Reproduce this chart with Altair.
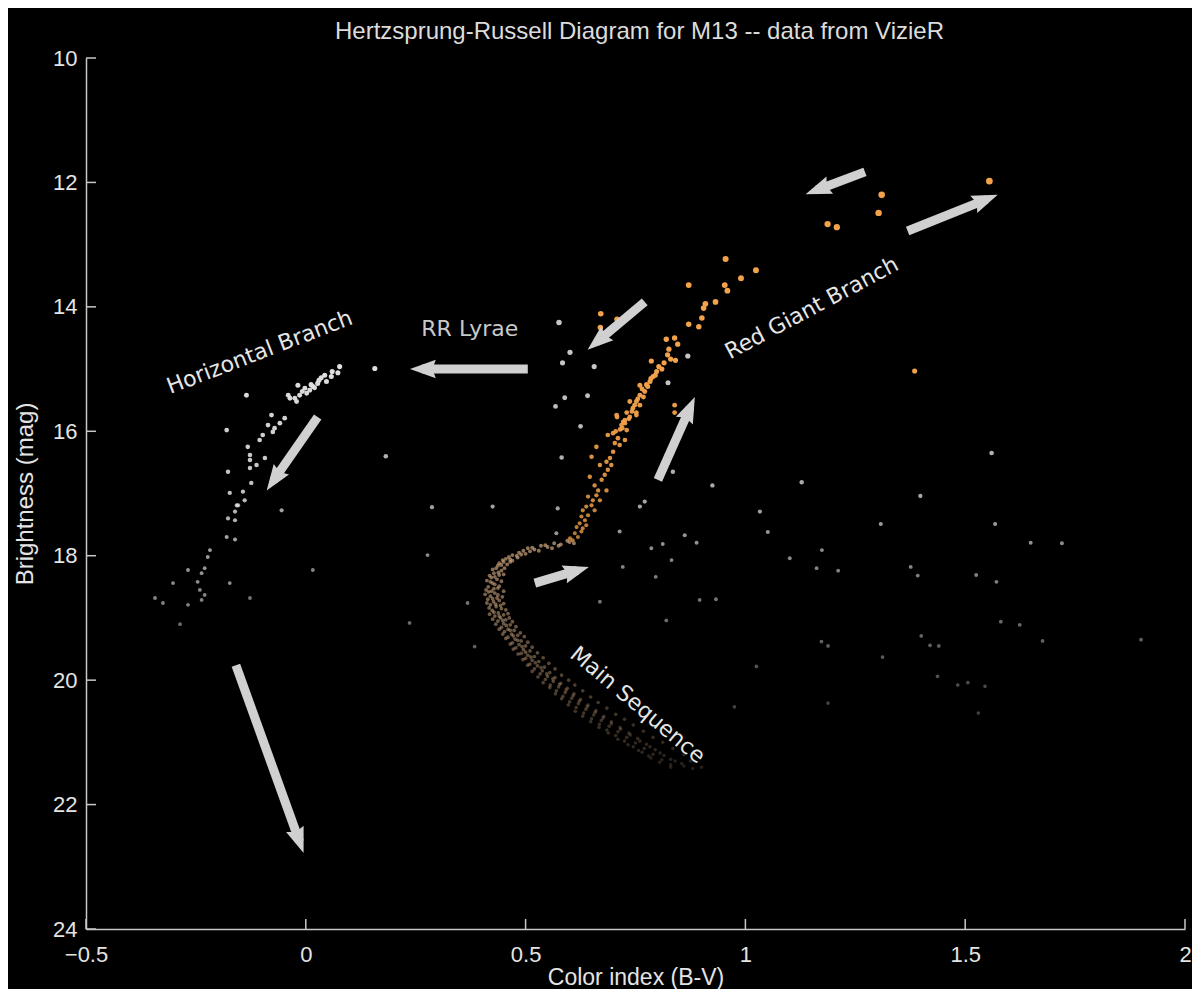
import math
import altair as alt
import pandas as pd

# ---------------- data ----------------
# Red giant branch (orange)
rgb_bv = [1.555, 1.31, 1.303, 1.187, 1.208, 1.385,
          0.955, 1.024, 0.990, 0.871, 0.953, 0.959, 0.932, 0.909, 0.905, 0.901, 0.871, 0.894,
          0.671, 0.708, 0.670, 0.839, 0.846, 0.826, 0.823, 0.830, 0.841, 0.786, 0.803, 0.798,
          0.790, 0.783, 0.778, 0.760, 0.771, 0.760, 0.752, 0.737, 0.744, 0.752, 0.730, 0.726,
          0.718, 0.839, 0.839, 0.708, 0.699, 0.815, 0.810, 0.795, 0.785, 0.775, 0.765, 0.768,
          0.755, 0.748, 0.742, 0.735, 0.722, 0.715, 0.705, 0.820,
          0.760, 0.752, 0.737, 0.726, 0.720, 0.730, 0.707, 0.687, 0.710, 0.726, 0.703, 0.714,
          0.661, 0.699, 0.692, 0.684, 0.695, 0.669, 0.650, 0.687, 0.680, 0.673, 0.684, 0.657,
          0.646, 0.665, 0.661, 0.669, 0.653, 0.642, 0.650, 0.638, 0.657, 0.630, 0.642, 0.627,
          0.635, 0.623, 0.638, 0.616, 0.630, 0.627, 0.612, 0.619, 0.601, 0.607]
rgb_mag = [11.98, 12.20, 12.49, 12.67, 12.72, 15.03,
           13.23, 13.41, 13.54, 13.65, 13.65, 13.74, 13.92, 13.95, 14.02, 14.18, 14.28, 14.32,
           14.11, 14.20, 14.33, 14.50, 14.60, 14.68, 14.77, 14.84, 14.86, 14.87, 14.96, 15.04,
           15.12, 15.20, 15.28, 15.26, 15.36, 15.42, 15.52, 15.52, 15.63, 15.70, 15.70, 15.82,
           15.90, 15.58, 15.70, 15.77, 16.03, 14.90, 15.00, 15.10, 15.15, 15.25, 15.32, 15.45,
           15.48, 15.58, 15.68, 15.80, 15.85, 15.97, 16.00, 14.52,
           15.58, 15.74, 15.77, 15.87, 15.95, 15.98, 15.74, 16.06, 16.11, 16.14, 16.19, 16.22,
           16.25, 16.33, 16.43, 16.49, 16.54, 16.54, 16.41, 16.62, 16.70, 16.78, 16.95, 16.87,
           16.73, 16.95, 17.03, 17.11, 17.11, 17.05, 17.19, 17.21, 17.27, 17.27, 17.35, 17.37,
           17.43, 17.48, 17.51, 17.54, 17.56, 17.61, 17.64, 17.70, 17.72, 17.75]

# Horizontal branch (white)
hb_bv = [0.157, 0.077, 0.073, 0.058, 0.043, 0.047, 0.027, 0.016, 0.009, -0.002, 0.002, -0.018,
         -0.014, -0.025, -0.036, -0.021, -0.040, -0.135, -0.048, -0.059, -0.078, -0.086, -0.071,
         -0.075, -0.098, -0.105, -0.132, -0.127, -0.093, -0.127, -0.112, -0.127, -0.180, -0.177,
         -0.124, -0.173, -0.143, -0.139, -0.154, -0.161, -0.177, -0.161, -0.180, -0.161, -0.218,
         -0.223, -0.230, -0.237, -0.268, -0.246, -0.173, -0.241, -0.230, -0.302, -0.237, -0.268,
         -0.325, -0.157, 0.030, 0.012, -0.008, 0.020, 0.060, 0.035, -0.343]
hb_mag = [14.99, 14.96, 15.06, 15.12, 15.10, 15.20, 15.23, 15.28, 15.34, 15.31, 15.39, 15.26,
          15.42, 15.47, 15.47, 15.52, 15.42, 15.42, 15.79, 15.87, 15.74, 15.90, 15.95,
          16.01, 16.06, 16.14, 16.25, 16.38, 16.43, 16.46, 16.54, 16.59, 15.98, 16.65,
          16.83, 16.99, 16.97, 17.11, 17.19, 17.29, 17.40, 17.43, 17.70, 17.74, 17.91,
          18.02, 18.20, 18.28, 18.23, 18.42, 18.44, 18.55, 18.63, 18.44, 18.71, 18.79,
          18.76, 17.19, 15.18, 15.25, 15.36, 15.30, 15.04, 15.14, 18.68]

# Subgiant branch and main sequence (tan)
ms_bv = [0.600, 0.580, 0.565, 0.550, 0.535, 0.520, 0.510, 0.495, 0.490, 0.480, 0.470, 0.465,
         0.455, 0.450, 0.445, 0.440, 0.433, 0.445, 0.428, 0.440, 0.422, 0.435, 0.420, 0.430,
         0.415, 0.428, 0.440, 0.416, 0.430, 0.420, 0.435, 0.414, 0.427, 0.440, 0.420, 0.433,
         0.445, 0.424, 0.438, 0.450, 0.430, 0.443, 0.455, 0.437, 0.450, 0.465, 0.445, 0.460,
         0.474, 0.452, 0.468, 0.482, 0.460, 0.476, 0.490, 0.470, 0.485, 0.500, 0.478, 0.495,
         0.510, 0.490, 0.505, 0.520, 0.500, 0.515, 0.530, 0.510, 0.527, 0.543, 0.520, 0.538,
         0.555, 0.533, 0.550, 0.567, 0.545, 0.563, 0.580, 0.556, 0.575, 0.595, 0.570, 0.590,
         0.610, 0.585, 0.605, 0.625, 0.600, 0.620, 0.642, 0.615, 0.637, 0.660, 0.632, 0.655,
         0.678, 0.650, 0.672, 0.695, 0.668, 0.690, 0.715, 0.685, 0.710, 0.735, 0.705, 0.730,
         0.755, 0.725, 0.750, 0.775, 0.745, 0.770, 0.795, 0.765, 0.790, 0.815, 0.785, 0.810,
         0.840, 0.830, 0.860, 0.880,
         0.575, 0.545, 0.530, 0.505, 0.485, 0.462, 0.470, 0.448, 0.458, 0.437, 0.452, 0.425,
         0.438, 0.450, 0.418, 0.430, 0.445, 0.412, 0.425, 0.437, 0.410, 0.450, 0.423, 0.408,
         0.437, 0.447, 0.412, 0.425, 0.450, 0.432, 0.417, 0.443, 0.455, 0.428, 0.418, 0.460,
         0.440, 0.425, 0.463, 0.448, 0.432, 0.470, 0.456, 0.440, 0.478, 0.465, 0.448, 0.488,
         0.472, 0.455, 0.497, 0.482, 0.465, 0.505, 0.492, 0.472, 0.515, 0.500, 0.483, 0.527,
         0.512, 0.494, 0.540, 0.522, 0.505, 0.553, 0.535, 0.515, 0.567, 0.548, 0.528, 0.582,
         0.562, 0.540, 0.598, 0.577, 0.555, 0.612, 0.592, 0.568, 0.630, 0.608, 0.582, 0.648,
         0.622, 0.597, 0.665, 0.640, 0.613, 0.685, 0.658, 0.630, 0.705, 0.676, 0.648, 0.725,
         0.695, 0.667, 0.745, 0.716, 0.688, 0.768, 0.738, 0.710, 0.790, 0.760, 0.733, 0.812,
         0.783, 0.757, 0.835, 0.806, 0.780, 0.860, 0.830, 0.805, 0.855, 0.875, 0.900, 0.830,
         0.610, 0.595, 0.560, 0.500, 0.515, 0.482, 0.465]
ms_mag = [17.78, 17.82, 17.80, 17.86, 17.84, 17.90, 17.93, 17.92, 17.98, 18.00, 17.99, 18.06,
          18.05, 18.10, 18.15, 18.12, 18.20, 18.24, 18.28, 18.31, 18.35, 18.38, 18.42, 18.46,
          18.50, 18.53, 18.49, 18.58, 18.60, 18.65, 18.68, 18.70, 18.74, 18.72, 18.79, 18.82,
          18.85, 18.88, 18.92, 18.95, 18.97, 19.00, 19.03, 19.05, 19.09, 19.11, 19.15, 19.18,
          19.20, 19.22, 19.26, 19.28, 19.31, 19.34, 19.37, 19.40, 19.43, 19.45, 19.48, 19.51,
          19.53, 19.57, 19.60, 19.62, 19.65, 19.68, 19.70, 19.74, 19.77, 19.79, 19.82, 19.85,
          19.88, 19.90, 19.94, 19.96, 19.99, 20.02, 20.05, 20.08, 20.11, 20.13, 20.17, 20.20,
          20.22, 20.26, 20.29, 20.31, 20.35, 20.38, 20.40, 20.44, 20.47, 20.49, 20.53, 20.56,
          20.58, 20.62, 20.65, 20.67, 20.71, 20.74, 20.76, 20.80, 20.83, 20.85, 20.89, 20.92,
          20.94, 20.98, 21.01, 21.03, 21.07, 21.10, 21.12, 21.16, 21.19, 21.21, 21.25, 21.28,
          21.30, 21.36, 21.38, 21.42,
          17.84, 17.83, 17.92, 17.88, 17.95, 18.02, 18.08, 18.07, 18.14, 18.16, 18.20, 18.22,
          18.27, 18.30, 18.32, 18.34, 18.41, 18.40, 18.44, 18.52, 18.55, 18.57, 18.57, 18.62,
          18.63, 18.66, 18.76, 18.69, 18.77, 18.78, 18.84, 18.80, 18.87, 18.91, 18.94, 18.93,
          18.97, 19.02, 19.00, 19.04, 19.10, 19.06, 19.12, 19.18, 19.14, 19.20, 19.26, 19.24,
          19.29, 19.33, 19.30, 19.36, 19.42, 19.39, 19.46, 19.50, 19.47, 19.55, 19.58, 19.56,
          19.63, 19.67, 19.64, 19.72, 19.76, 19.73, 19.80, 19.86, 19.82, 19.90, 19.95, 19.92,
          19.98, 20.04, 20.00, 20.07, 20.12, 20.08, 20.16, 20.22, 20.17, 20.25, 20.30, 20.27,
          20.34, 20.40, 20.36, 20.43, 20.50, 20.45, 20.52, 20.58, 20.55, 20.61, 20.67, 20.63,
          20.70, 20.76, 20.72, 20.79, 20.85, 20.82, 20.88, 20.95, 20.92, 20.98, 21.04, 21.00,
          21.07, 21.13, 21.10, 21.17, 21.22, 21.20, 21.27, 21.32, 21.34, 21.30, 21.40, 21.40,
          17.80, 17.76, 17.88, 17.97, 17.87, 18.03, 18.10]

# Field stars (grey)
field_bv = [0.576, 0.869, 0.824, 0.601, 0.584, 0.656, 0.589, 0.641, 0.568, 0.625, 0.582, 0.573,
            0.570, 0.714, 0.760, 0.771, 0.835, 0.925, 0.862, 0.889, 0.812, 0.786, 0.832, 0.721,
            0.796, 1.560, 1.128, 1.033, 1.051, 1.398, 1.308, 1.568, 1.649, 1.174, 1.101, 1.162,
            1.211, 1.376, 1.392, 1.525, 1.571, 0.933, 1.581, 1.624, 1.676, 1.173, 1.188, 1.400,
            1.420, 1.440, 1.312, 1.025, 1.437, 1.506, 1.545, 1.483, 1.530, 0.975, 1.188, 1.720,
            1.900, 0.182, 0.287, 0.277, 0.236, 0.384, 0.368, 0.425, 0.896, 0.669, 0.820, 0.016,
            -0.055, -0.127, -0.286]
field_mag = [14.25, 14.79, 15.22, 14.73, 14.90, 14.96, 15.46, 15.43, 15.60, 15.92, 16.42, 17.24,
             17.64, 17.61, 17.21, 17.13, 16.65, 16.87, 17.67, 17.79, 17.81, 17.88, 18.07, 18.18,
             18.34, 16.35, 16.82, 17.29, 17.62, 17.04, 17.49, 17.49, 17.79, 17.91, 18.04, 18.20,
             18.24, 18.18, 18.32, 18.31, 18.42, 18.70, 19.06, 19.11, 19.37, 19.38, 19.45, 19.29,
             19.44, 19.45, 19.63, 19.78, 19.94, 20.04, 20.10, 20.08, 20.53, 20.43, 20.37, 17.80,
             19.35, 16.40, 17.22, 17.99, 19.08, 19.46, 18.76, 17.21, 18.71, 18.74, 19.04, 18.23,
             17.27, 18.68, 19.10]

# Annotation arrows (tail -> tip, in data units)
arrow_x0 = [1.272, 1.369, 0.771, 0.505, 0.027, 0.801, 0.521, -0.159]
arrow_y0 = [11.83, 12.78, 13.92, 15.00, 15.77, 16.78, 18.44, 19.76]
arrow_x1 = [1.137, 1.574, 0.641, 0.237, -0.089, 0.885, 0.644, -0.005]
arrow_y1 = [12.19, 12.20, 14.69, 15.00, 16.95, 15.45, 18.18, 22.78]

# Annotation labels
label_text = ["Horizontal Branch", "RR Lyrae", "Red Giant Branch", "Main Sequence"]
label_bv = [-0.105, 0.373, 1.151, 0.755]
label_mag = [14.73, 14.36, 14.02, 20.40]
label_angle = [339, 0, 332, 40]

x_ticks = [-0.5, 0, 0.5, 1, 1.5, 2]
y_ticks = [10, 12, 14, 16, 18, 20, 22, 24]

# ---------------- chart ----------------
W, H = 1099, 871
XD = [-0.5, 2.0]
YD = [10, 24]
pxx = W / (XD[1] - XD[0])
pxy = H / (YD[1] - YD[0])

rows = []
for g, xs, ys in [("field", field_bv, field_mag), ("ms", ms_bv, ms_mag),
                  ("hb", hb_bv, hb_mag), ("rgb", rgb_bv, rgb_mag)]:
    for a, b in zip(xs, ys):
        rows.append({"bv": a, "mag": b, "grp": g})
stars = pd.DataFrame(rows)

arows = []
for x0, y0, x1, y1 in zip(arrow_x0, arrow_y0, arrow_x1, arrow_y1):
    dx = (x1 - x0) * pxx
    dy = (y1 - y0) * pxy
    L = math.hypot(dx, dy)
    ux, uy = dx / L, dy / L
    arows.append({
        "bv": x0, "mag": y0,
        "bv2": x1 - 12 * ux / pxx, "mag2": y1 - 12 * uy / pxy,
        "hx": x1 - 15 * ux / pxx, "hy": y1 - 15 * uy / pxy,
        "angle": math.degrees(math.atan2(dx, -dy)) % 360,
    })
arrows = pd.DataFrame(arows)

labels = pd.DataFrame({"bv": label_bv, "mag": label_mag, "text": label_text,
                       "angle": label_angle,
                       "col": ["#e6e6e6", "#c9c9c9", "#e6e6e6", "#e6e6e6"]})

AX = "#c8c8c8"
FONT = "Liberation Sans"
xscale = alt.Scale(domain=XD, nice=False, zero=False)
yscale = alt.Scale(domain=YD, reverse=True, nice=False, zero=False)
xaxis = alt.Axis(title="Color index (B-V)", values=x_ticks, format="~g", grid=False,
                 ticks=False, tickSize=0, labelPadding=15, labelFlush=False,
                 labelFontSize=22, labelColor="#e4e4e4", labelFont=FONT,
                 titleFontSize=23, titleColor="#e4e4e4", titleFont=FONT,
                 titleFontWeight="normal", titleY=48, titleBaseline="middle",
                 domainColor=AX, domainWidth=1.5)
yaxis = alt.Axis(title="Brightness (mag)", values=y_ticks, format="d", grid=False,
                 ticks=False, tickSize=0, labelPadding=9, labelFlush=False,
                 labelFontSize=22, labelColor="#e4e4e4", labelFont=FONT,
                 titleFontSize=24, titleColor="#e4e4e4", titleFont=FONT,
                 titleFontWeight="normal", titleX=-61, titleY=H / 2,
                 titleAlign="center", titleBaseline="middle", titleAngle=270,
                 domainColor=AX, domainWidth=1.5)

X = lambda f: alt.X(f, type="quantitative", scale=xscale, axis=xaxis)
Y = lambda f: alt.Y(f, type="quantitative", scale=yscale, axis=yaxis)

pts = alt.Chart(stars).mark_circle(strokeWidth=0).encode(
    x=X("bv"), y=Y("mag"),
    color=alt.Color("grp:N", legend=None,
                    scale=alt.Scale(domain=["hb", "rgb", "ms", "field"],
                                    range=["#e0e0e0", "#f2a24a", "#c9a27c", "#c6c6c6"])),
    opacity=alt.Opacity("mag:Q", legend=None,
                        scale=alt.Scale(domain=[12, 15, 17, 18.5, 20, 21.5],
                                        range=[1, 1, 0.85, 0.62, 0.4, 0.18])),
    size=alt.Size("mag:Q", legend=None,
                  scale=alt.Scale(domain=[12, 15, 18, 21.5], range=[44, 26, 15, 12])),
)

shafts = alt.Chart(arrows).mark_rule(color="#d0d0d0", strokeWidth=9, strokeCap="butt").encode(
    x=X("bv"), y=Y("mag"), x2="bv2", y2="mag2")

heads = alt.Chart(arrows).mark_point(
    shape="M0,-1L0.62,0.72L0,0.5L-0.62,0.72Z", filled=True, color="#d0d0d0",
    opacity=1, size=900, strokeWidth=0).encode(
    x=X("hx"), y=Y("hy"), angle=alt.Angle("angle:Q", scale=None))

texts = alt.Chart(labels).mark_text(font="DejaVu Sans", fontSize=22, align="center",
                                    baseline="middle").encode(
    x=X("bv"), y=Y("mag"), text="text:N",
    angle=alt.Angle("angle:Q", scale=None),
    color=alt.Color("col:N", scale=None))

xt = alt.Chart(pd.DataFrame({"v": x_ticks})).mark_rule(color=AX, strokeWidth=1.5).encode(
    x=X("v"), y=alt.value(H), y2=alt.value(H - 10))
yt = alt.Chart(pd.DataFrame({"v": y_ticks})).mark_rule(color=AX, strokeWidth=1.5).encode(
    y=Y("v"), x=alt.value(0), x2=alt.value(10))

chart = alt.layer(xt, yt, pts, shafts, heads, texts).properties(
    width=W, height=H,
    title=alt.TitleParams("Hertzsprung-Russell Diagram for M13 -- data from VizieR",
                          fontSize=24, color="#dcdcdc", font=FONT, fontWeight="normal",
                          offset=3, dx=4),
    padding={"left": 78, "top": 50, "right": 7, "bottom": 60},
    autosize=alt.AutoSizeParams(type="none"),
    background="#000000",
).configure_view(stroke="transparent")

chart.save("out.html", embed_options={"renderer": "svg", "actions": False})
